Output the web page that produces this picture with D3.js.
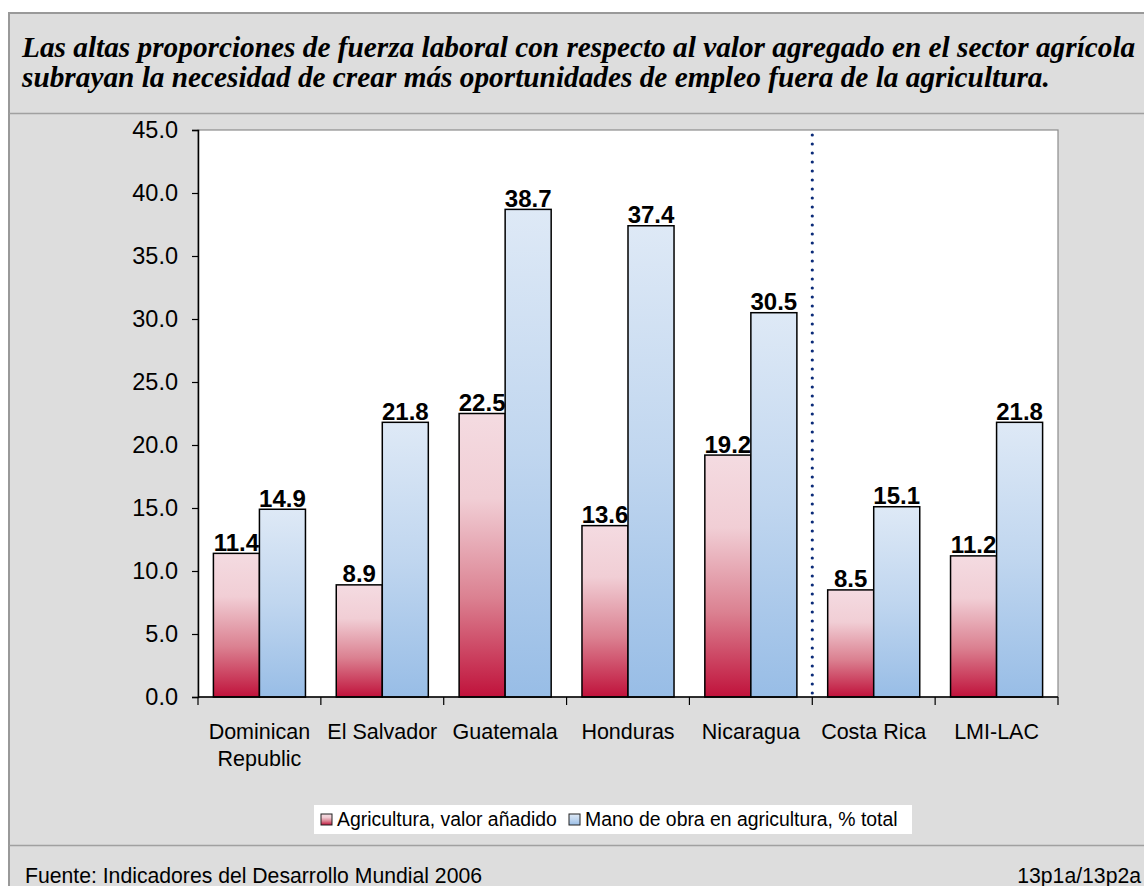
<!DOCTYPE html>
<html>
<head>
<meta charset="utf-8">
<script src="https://cdn.jsdelivr.net/npm/d3@7"></script>
<style>
  html, body { margin: 0; padding: 0; background: #ffffff; }
  svg { display: block; }
</style>
</head>
<body>
<svg id="chart" width="1144" height="886"></svg>
<script>
// ---------- data ----------
const categories = ["Dominican Republic", "El Salvador", "Guatemala", "Honduras", "Nicaragua", "Costa Rica", "LMI-LAC"];
const categoryLines = [["Dominican", "Republic"], ["El Salvador"], ["Guatemala"], ["Honduras"], ["Nicaragua"], ["Costa Rica"], ["LMI-LAC"]];
const seriesNames = ["Agricultura, valor añadido", "Mano de obra en agricultura, % total"];
const agriValueAdded = [11.4, 8.9, 22.5, 13.6, 19.2, 8.5, 11.2];
const agriLabor = [14.9, 21.8, 38.7, 37.4, 30.5, 15.1, 21.8];
const yTicks = [0, 5, 10, 15, 20, 25, 30, 35, 40, 45];
const dividerAfter = "Nicaragua";
const titleLines = [
  "Las altas proporciones de fuerza laboral con respecto al valor agregado en el sector agrícola",
  "subrayan la necesidad de crear más oportunidades de empleo fuera de la agricultura."
];
const sourceText = "Fuente: Indicadores del Desarrollo Mundial 2006";
const codeText = "13p1a/13p2a";

// ---------- layout ----------
const svg = d3.select("#chart");
const W = 1144, H = 886;
const plot = { left: 198, right: 1058, top: 130, bottom: 697 };
const sans = "'Liberation Sans', Arial, sans-serif";

const defs = svg.append("defs");
const gRed = defs.append("linearGradient").attr("id", "gradRed").attr("x1", 0).attr("y1", 0).attr("x2", 0).attr("y2", 1);
[[0, "#f4dbe1"], [0.3, "#f1ced5"], [0.65, "#db8191"], [1, "#c0123b"]].forEach(([o, c]) =>
  gRed.append("stop").attr("offset", o).attr("stop-color", c));
const gBlue = defs.append("linearGradient").attr("id", "gradBlue").attr("x1", 0).attr("y1", 0).attr("x2", 0).attr("y2", 1);
[[0, "#dee9f6"], [0.5, "#c0d6ef"], [1, "#98bde6"]].forEach(([o, c]) =>
  gBlue.append("stop").attr("offset", o).attr("stop-color", c));
const fills = ["url(#gradRed)", "url(#gradBlue)"];

// outer frame
svg.append("rect").attr("x", 9).attr("y", 13).attr("width", W + 20).attr("height", H + 20)
  .attr("fill", "#dddddd").attr("stroke", "#999999").attr("stroke-width", 2);
// separators
svg.append("line").attr("x1", 9).attr("x2", W).attr("y1", 113.5).attr("y2", 113.5).attr("stroke", "#a0a0a0").attr("stroke-width", 1.5);
svg.append("line").attr("x1", 9).attr("x2", W).attr("y1", 845.5).attr("y2", 845.5).attr("stroke", "#a0a0a0").attr("stroke-width", 1.5);

// title
const title = svg.append("text").attr("font-family", "'Liberation Serif', 'Times New Roman', serif")
  .attr("font-weight", "bold").attr("font-style", "italic").attr("font-size", 29.3).attr("fill", "#000");
titleLines.forEach((t, i) => title.append("tspan").attr("x", 22).attr("y", 57 + i * 30).text(t));

// plot area
svg.append("rect").attr("x", plot.left).attr("y", plot.top).attr("width", plot.right - plot.left).attr("height", plot.bottom - plot.top)
  .attr("fill", "#ffffff").attr("stroke", "#8c8c8c").attr("stroke-width", 1.2);

// scales
const x0 = d3.scaleBand().domain(categories).range([plot.left, plot.right]).paddingInner(0).paddingOuter(0);
const x1 = d3.scaleBand().domain([0, 1]).range([15.4, x0.bandwidth() - 15.4]).padding(0);
const y = d3.scaleLinear().domain([0, 45]).range([plot.bottom, plot.top]);

// y axis
const yAxis = svg.append("g").attr("transform", `translate(${plot.left},0)`)
  .call(d3.axisLeft(y).tickValues(yTicks).tickFormat(d3.format(".1f")).tickSize(6).tickPadding(14));
yAxis.select(".domain").attr("stroke", "#000").attr("stroke-width", 1.5);
yAxis.selectAll(".tick line").attr("stroke", "#000").attr("stroke-width", 1.2);
yAxis.selectAll(".tick text").attr("font-family", sans).attr("font-size", 23.5).attr("fill", "#000");

// bars
const barData = [];
categories.forEach((c, i) => {
  barData.push({ cat: c, s: 0, v: agriValueAdded[i] });
  barData.push({ cat: c, s: 1, v: agriLabor[i] });
});
const bars = svg.append("g");
bars.selectAll("rect").data(barData).join("rect")
  .attr("x", d => x0(d.cat) + x1(d.s))
  .attr("y", d => y(d.v))
  .attr("width", x1.bandwidth())
  .attr("height", d => y(0) - y(d.v))
  .attr("fill", d => fills[d.s])
  .attr("stroke", "#000").attr("stroke-width", 1.5);
bars.selectAll("text").data(barData).join("text")
  .attr("x", d => x0(d.cat) + x1(d.s) + x1.bandwidth() / 2)
  .attr("y", d => y(d.v) - 2.5)
  .attr("text-anchor", "middle")
  .attr("font-family", sans).attr("font-weight", "bold").attr("font-size", 24).attr("fill", "#000")
  .text(d => d3.format(".1f")(d.v));

// x axis
const xg = svg.append("g");
xg.append("line").attr("x1", plot.left).attr("x2", plot.right).attr("y1", y(0)).attr("y2", y(0))
  .attr("stroke", "#000").attr("stroke-width", 1.5);
const boundaries = categories.map(c => x0(c)).concat([plot.right]);
xg.selectAll("line.tk").data(boundaries).join("line").attr("class", "tk")
  .attr("x1", d => d).attr("x2", d => d).attr("y1", y(0)).attr("y2", y(0) + 8)
  .attr("stroke", "#000").attr("stroke-width", 1.2);
categories.forEach((c, i) => {
  const t = xg.append("text").attr("text-anchor", "middle").attr("font-family", sans)
    .attr("font-size", 21.5).attr("fill", "#000");
  categoryLines[i].forEach((ln, j) =>
    t.append("tspan").attr("x", x0(c) + x0.bandwidth() / 2).attr("y", 739 + j * 27).text(ln));
});

// dotted divider
const dx = x0(dividerAfter) + x0.bandwidth();
svg.append("line").attr("x1", dx).attr("x2", dx).attr("y1", 135).attr("y2", plot.bottom)
  .attr("stroke", "#0a2a78").attr("stroke-width", 3.2).attr("stroke-linecap", "round")
  .attr("stroke-dasharray", "0,9");

// legend
const lg = svg.append("g");
lg.append("rect").attr("x", 314).attr("y", 805).attr("width", 598).attr("height", 29).attr("fill", "#ffffff");
const legItems = [{ x: 321, tx: 337 }, { x: 569, tx: 585 }];
seriesNames.forEach((n, i) => {
  lg.append("rect").attr("x", legItems[i].x).attr("y", 814).attr("width", 11).attr("height", 11)
    .attr("fill", fills[i]).attr("stroke", "#222").attr("stroke-width", 1);
  lg.append("text").attr("x", legItems[i].tx).attr("y", 826).attr("font-family", sans)
    .attr("font-size", 19.4).attr("fill", "#000").text(n);
});

// footer
svg.append("text").attr("x", 25).attr("y", 883).attr("font-family", sans).attr("font-size", 21.2).attr("fill", "#000").text(sourceText);
svg.append("text").attr("x", 1141).attr("y", 883).attr("text-anchor", "end").attr("font-family", sans).attr("font-size", 21.2).attr("fill", "#000").text(codeText);
</script>
</body>
</html>
